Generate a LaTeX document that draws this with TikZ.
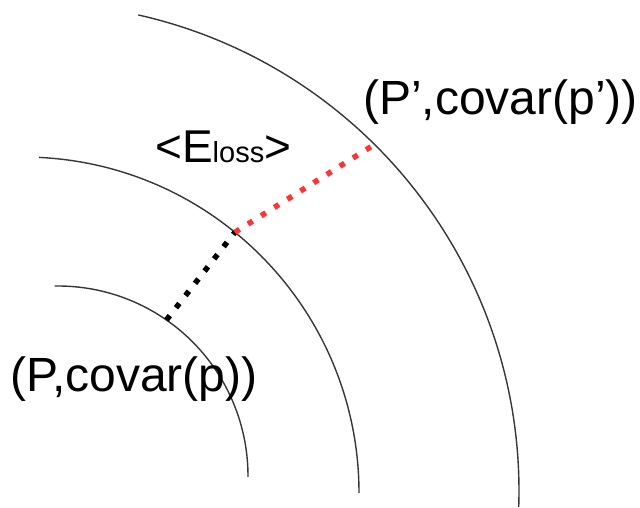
\documentclass[tikz,border=0pt]{standalone}
\usepackage{fontspec}
\setmainfont{Liberation Sans}
\definecolor{dotred}{RGB}{255,51,51}
\definecolor{arcgray}{RGB}{55,55,55}
\begin{document}
\begin{tikzpicture}[x=1pt,y=1pt,
  arcline/.style={draw=arcgray,line width=1.4pt},
  dotline/.style={line width=5.5pt,dash pattern=on 5.5pt off 10pt},
  lbl/.style={anchor=base west,inner sep=0pt,font=\fontsize{48}{52}\selectfont}]
\useasboundingbox[fill=white] (0,0) rectangle (640,507);
% arcs
\draw[arcline] ([shift={(58,31)}]91:190) arc[start angle=91,end angle=-0.3,radius=190pt];
\draw[arcline] ([shift={(23,14)}]87.3:336) arc[start angle=87.3,end angle=0,radius=336pt];
\draw[arcline] ([shift={(31,16)}]77.3:488) arc[start angle=77.3,end angle=-1.9,radius=488pt];
% points on arcs
\coordinate (pin) at ([shift={(58,31)}]55.2:190);
\coordinate (pmid) at ([shift={(23,14)}]50.9:336);
\coordinate (pout) at ([shift={(31,16)}]45.25:488);
\draw[dotline,black] (pin) -- (pmid);
\draw[dotline,dotred] (pmid) -- (pout);
% labels
\node[lbl] (lp) at (10,116) {(P,covar(p))};
\node[lbl] (lpp) at (363,392) {(P’,covar(p’))};
\node[lbl,font=\fontsize{46}{50}\selectfont] (le) at (155,344) {<E{\fontsize{29}{32}\selectfont loss}>};
\end{tikzpicture}
\end{document}
